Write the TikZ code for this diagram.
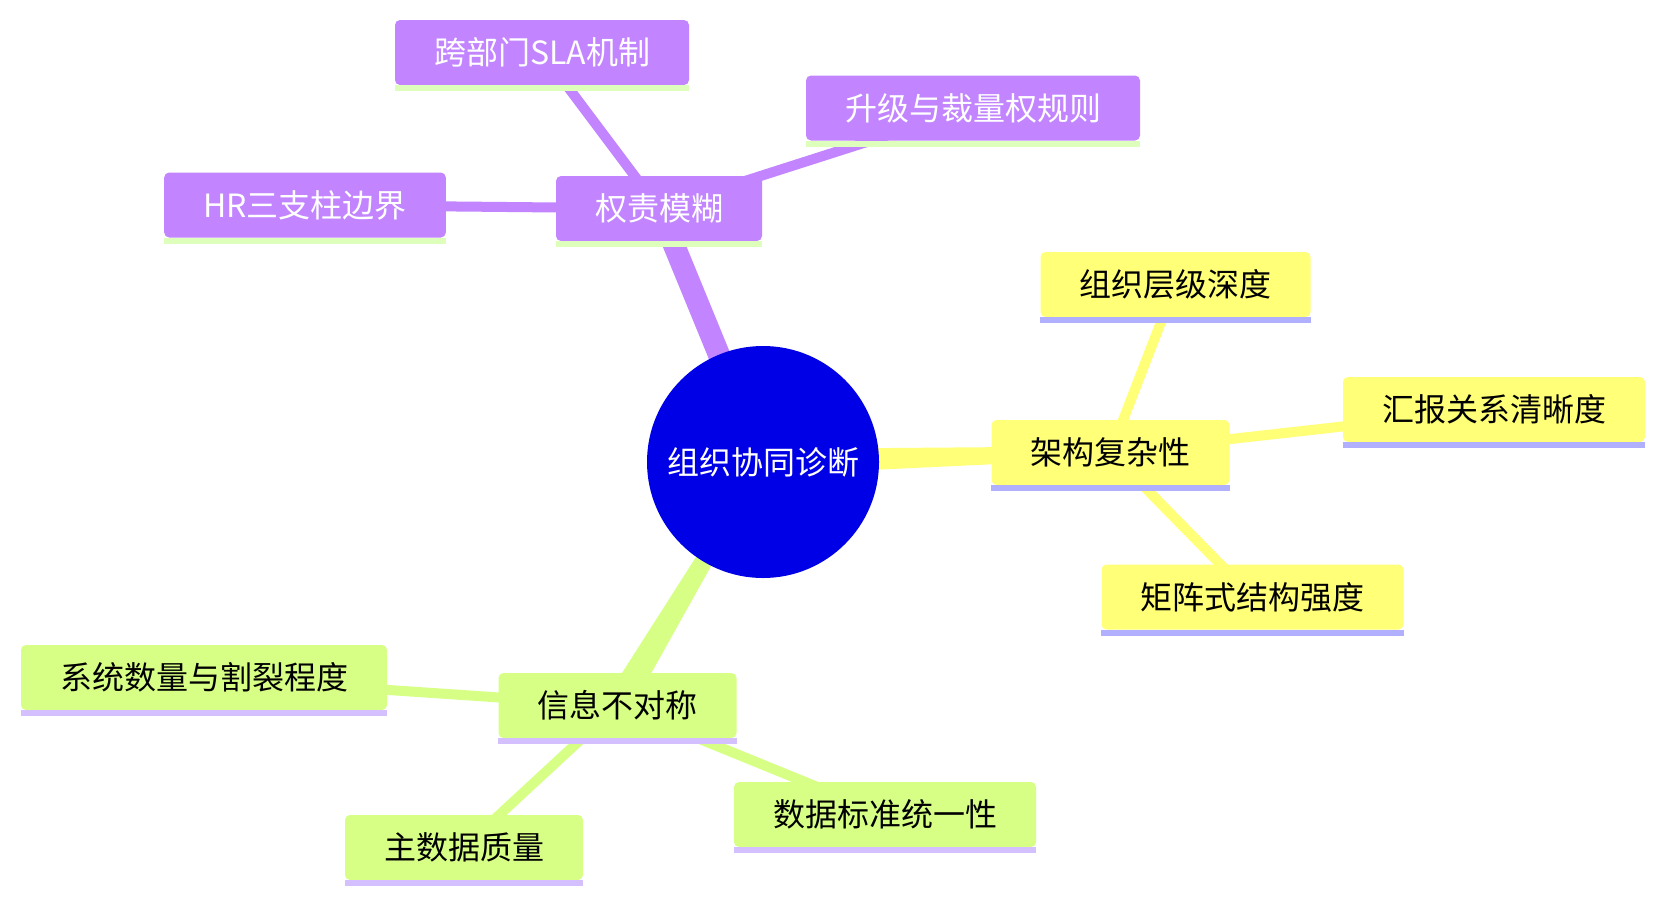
\documentclass[tikz,border=0pt]{standalone}
\usepackage{fontspec}
\setmainfont{Noto Sans CJK SC}
\usetikzlibrary{calc}
\pgfdeclarelayer{bg}
\pgfsetlayers{bg,main}
\definecolor{purp}{HTML}{C285FF}
\definecolor{yel}{HTML}{FFFF78}
\definecolor{grn}{HTML}{D7FF86}
\definecolor{purpul}{HTML}{DDFFBB}
\definecolor{yelul}{HTML}{B0B0FF}
\definecolor{grnul}{HTML}{D4BFFF}
\definecolor{rootc}{HTML}{0000E6}
\newcommand\taperedge[5]{%
  \fill[#1] ($(#2.center)!#4!90:(#3.center)$) -- ($(#3.center)!#5!-90:(#2.center)$)
    -- ($(#3.center)!#5!90:(#2.center)$) -- ($(#2.center)!#4!-90:(#3.center)$) -- cycle;}
\tikzset{
  mmbox/.style={rounded corners=5pt, inner xsep=39pt, inner ysep=0pt,
    minimum height=65pt, text height=28pt, text depth=4pt,
    font=\fontsize{32}{38}\selectfont},
  pbox/.style={mmbox, fill=purp, text=white},
  ybox/.style={mmbox, fill=yel, text=black},
  gbox/.style={mmbox, fill=grn, text=black},
  rootnode/.style={circle, fill=rootc, text=white, minimum size=232pt, inner sep=0pt,
    font=\fontsize{32}{38}\selectfont},
  child/.style={line width=10pt},
}
\begin{document}
\begin{tikzpicture}[x=1pt,y=-1pt]
\useasboundingbox (0,0) rectangle (1664,902);
% nodes
\node[rootnode] (root) at (763,462) {组织协同诊断};
\node[pbox] (p0) at (659,208.5) {权责模糊};
\node[pbox] (p1) at (542,52.5) {跨部门SLA机制};
\node[pbox] (p2) at (305,205) {HR三支柱边界};
\node[pbox] (p3) at (973,108) {升级与裁量权规则};
\node[ybox] (y0) at (1110.5,452.5) {架构复杂性};
\node[ybox] (y1) at (1175.5,284.5) {组织层级深度};
\node[ybox] (y2) at (1494,409.5) {汇报关系清晰度};
\node[ybox] (y3) at (1252.5,597) {矩阵式结构强度};
\node[gbox] (g0) at (617.5,705.5) {信息不对称};
\node[gbox] (g1) at (204,677.5) {系统数量与割裂程度};
\node[gbox] (g2) at (464,847.5) {主数据质量};
\node[gbox] (g3) at (885,814.5) {数据标准统一性};
% underlines
\foreach \n/\c in {p0/purpul,p1/purpul,p2/purpul,p3/purpul,
                   y0/yelul,y1/yelul,y2/yelul,y3/yelul,
                   g0/grnul,g1/grnul,g2/grnul,g3/grnul}
  \fill[\c] (\n.south west) rectangle ($(\n.south east)+(0,6)$);
% edges
\begin{pgfonlayer}{bg}
  \fill[white] (0,0) rectangle (1664,902);
  \taperedge{purp}{root}{p0}{11pt}{11pt}
  \taperedge{yel}{root}{y0}{13pt}{6.25pt}
  \taperedge{grn}{root}{g0}{5.4pt}{13.7pt}
  \draw[child, purp] (p0.center) -- (p1.center);
  \draw[child, purp] (p0.center) -- (p2.center);
  \draw[child, purp] (p0.center) -- (p3.center);
  \draw[child, yel] (y0.center) -- (y1.center);
  \draw[child, yel] (y0.center) -- (y2.center);
  \draw[child, yel] (y0.center) -- (y3.center);
  \draw[child, grn] (g0.center) -- (g1.center);
  \draw[child, grn] (g0.center) -- (g2.center);
  \draw[child, grn] (g0.center) -- (g3.center);
\end{pgfonlayer}
\end{tikzpicture}
\end{document}
